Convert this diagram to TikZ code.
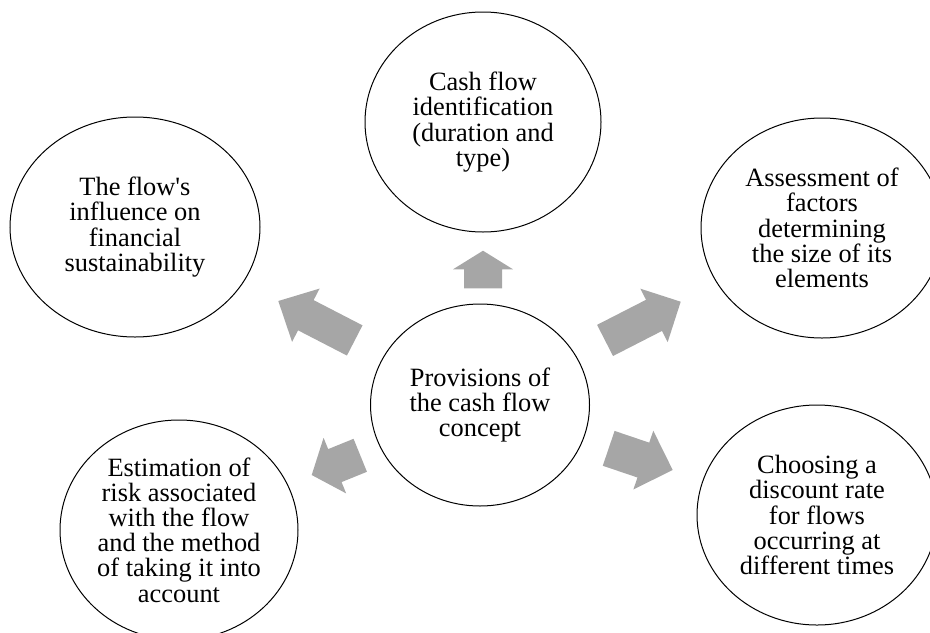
\documentclass[tikz,border=0pt]{standalone}
\usepackage{fontspec}
\setmainfont{Liberation Serif}
\usetikzlibrary{shapes.geometric}
\definecolor{arrgray}{HTML}{A6A6A6}
% block arrow: #1 tip coordinate, #2 angle, #3 length, #4 head length, #5 head half-width, #6 shaft half-width
\newcommand\blkarrow[6]{%
  \begin{scope}[shift={(#1)}, rotate=#2]
    \fill[arrgray] (0,0) -- (-#4,#5) -- (-#4,#6) -- (-#3,#6) -- (-#3,-#6) -- (-#4,-#6) -- (-#4,-#5) -- cycle;
  \end{scope}}
\begin{document}
\begin{tikzpicture}[x=0.75pt,y=-0.75pt,
  bub/.style={ellipse, draw, line width=0.75pt, inner sep=0pt, align=center,
    minimum height=165pt, font=\fontsize{19.8}{18.9}\selectfont}]
\useasboundingbox (0,0) rectangle (930,632);
\clip (0,0) rectangle (930,632);

\node[bub, minimum width=164.25pt, minimum height=151.5pt] (center) at (480,405)
  {Provisions of\\the cash flow\\concept};
\node[bub, minimum width=177pt] (top) at (483,122)
  {Cash flow\\identification\\(duration and\\type)};
\node[bub, minimum width=187.5pt] (ul) at (135,227)
  {The flow\textquotesingle s\\influence on\\financial\\sustainability};
\node[bub, minimum width=181.5pt] (ur) at (822,228)
  {Assessment of\\factors\\determining\\the size of its\\elements};
\node[bub, minimum width=180pt] (lr) at (817,515)
  {Choosing a\\discount rate\\for flows\\occurring at\\different times};
\node[bub, minimum width=178.5pt] (ll) at (179,530)
  {Estimation of\\risk associated\\with the flow\\and the method\\of taking it into\\account};

\coordinate (tipup) at (483,250.7);
\coordinate (tipul) at (278.3,301);
\coordinate (tipur) at (680.7,301.7);
\coordinate (tiplr) at (672.7,470);
\coordinate (tipll) at (311.7,475);

\blkarrow{tipup}{90}{37.6}{18.6}{30}{19}
\blkarrow{tipul}{152.7}{86}{31}{30}{17}
\blkarrow{tipur}{27.1}{85}{30}{30}{17.5}
\blkarrow{tiplr}{-18.7}{67.6}{31}{31}{18.4}
\blkarrow{tipll}{202.1}{52.4}{25}{30}{17.8}
\end{tikzpicture}
\end{document}
